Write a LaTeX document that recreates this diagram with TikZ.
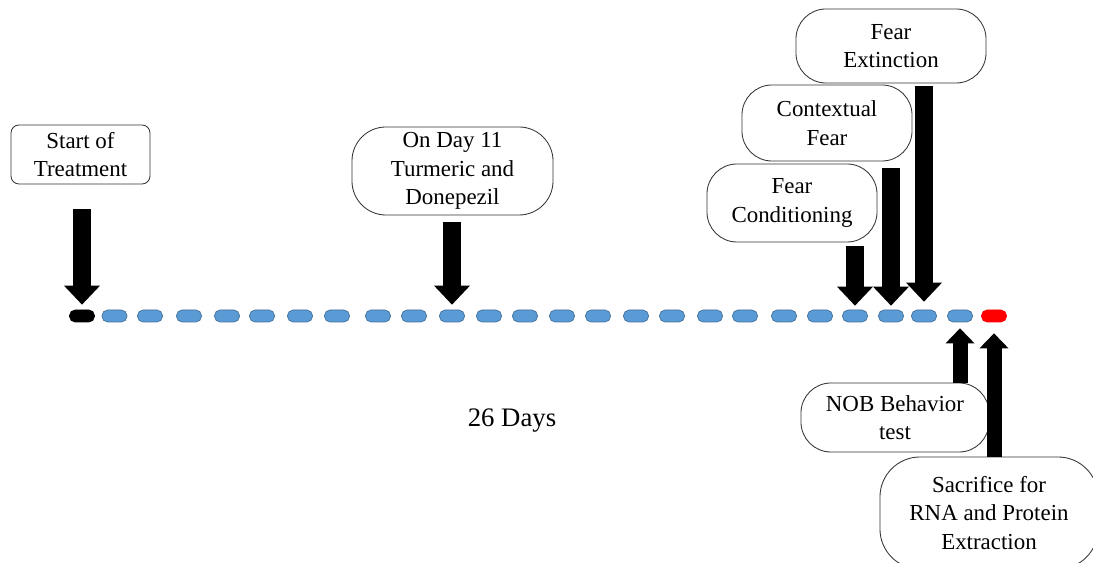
\documentclass[tikz,border=0pt]{standalone}
\usepackage{fontspec}
\setmainfont{Liberation Serif}
\usetikzlibrary{arrows.meta}
\definecolor{dayblue}{HTML}{5B9BD5}
\definecolor{dayedge}{HTML}{41719C}

\begin{document}
\begin{tikzpicture}[x=0.025cm,y=-0.025cm,
  box/.style={draw=black!80, line width=0.6pt, rounded corners=0.75cm, align=center, inner sep=0pt},
  day/.style={draw=dayedge, fill=dayblue, line width=0.5pt, rounded corners=0.14cm, minimum width=0.625cm, minimum height=0.3cm, inner sep=0pt},
  down/.style={line width=0.45cm, -{Triangle[length=0.475cm, width=0.9cm, line width=0pt]}},
  up/.style={line width=0.375cm, -{Triangle[length=0.375cm, width=0.725cm, line width=0pt]}}]
\fontsize{16.3}{20.3}\selectfont
\useasboundingbox (0,0) rectangle (1093,563);
\clip (0,0) rectangle (1093,563);

\node[day, fill=black, draw=black] (d1) at (82,316) {};
\foreach \x [count=\i from 2] in {114.5,150,189,227,262,300,337,378,414,452,489,525,562,598,636,672,710,745,784,820,855,891,924,960}
  \node[day] (d\i) at (\x,316) {};
\node[day, fill=red, draw=red] (d26) at (994,316) {};

\node[box, rounded corners=0.2cm, minimum width=3.475cm, minimum height=1.475cm] (start) at (80.5,154.5) {Start of\\Treatment};
\node[box, rounded corners=0.85cm, minimum width=5.025cm, minimum height=2.2cm] (turm) at (452.5,171) {On Day 11\\Turmeric and\\Donepezil};
\node[box, minimum width=4.75cm, minimum height=1.85cm] (ext) at (891,46) {Fear\\Extinction};
\node[box, minimum width=4.25cm, minimum height=1.9cm] (ctx) at (827,123) {Contextual\\Fear};
\node[box, minimum width=4.25cm, minimum height=1.95cm] (cond) at (792,203) {Fear\\Conditioning};
\node[box, minimum width=4.7cm, minimum height=1.725cm] (nob) at (895,417.5) {NOB Behavior\\test};
\node[box, rounded corners=1cm, minimum width=5.45cm, minimum height=2.8cm] (sac) at (989,513) {Sacrifice for\\RNA and Protein\\Extraction};

\node[font=\fontsize{19}{23}\selectfont] (span) at (512,421) {26 Days};

\draw[down, shorten <=0.625cm, shorten >=0.125cm] (start.south -| d1) -- (d1.north);
\draw[down, shorten <=0.175cm, shorten >=0.125cm] (turm.south -| d11) -- (d11.north);
\draw[down, shorten <=0.1cm, shorten >=0.1cm] (cond.south -| d22) -- (d22.north);
\draw[down, shorten <=0.175cm, shorten >=0.1cm] (ctx.south -| d23) -- (d23.north);
\draw[down, shorten <=0.075cm, shorten >=0.2cm] (ext.south -| d24) -- (d24.north);
\draw[up, shorten >=0.15cm] (nob.north -| d25) -- (d25.south);
\draw[up, shorten >=0.275cm] (sac.north -| d26) -- (d26.south);
\end{tikzpicture}
\end{document}
